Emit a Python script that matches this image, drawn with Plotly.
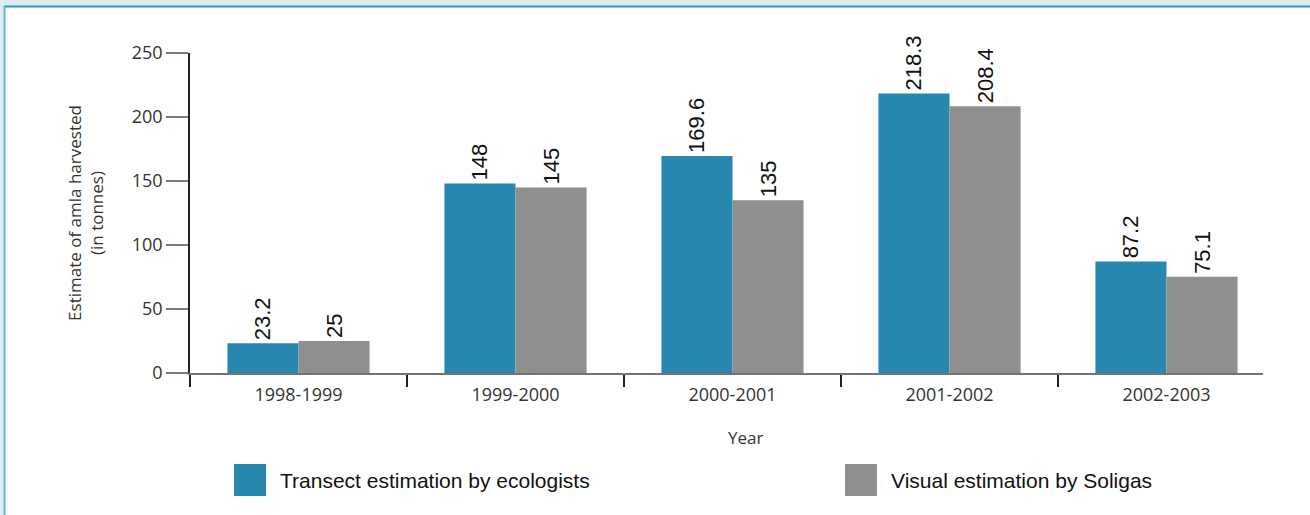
import plotly.graph_objects as go

# ---- data ----
years = ["1998-1999", "1999-2000", "2000-2001", "2001-2002", "2002-2003"]
transect = [23.2, 148, 169.6, 218.3, 87.2]
visual = [25, 145, 135, 208.4, 75.1]
series_names = ["Transect estimation by ecologists", "Visual estimation by Soligas"]
series_colors = ["#2787AE", "#8F8F8F"]
y_ticks = [0, 50, 100, 150, 200, 250]

W, H = 1310, 515
L, R, T, B = 190, 47, 53, 142
PW, PH = W - L - R, H - T - B


def px2x(px):
    return (px - L) / PW


def py2y(py):
    return (H - B - py) / PH


fig = go.Figure()
for name, vals, col in zip(series_names, [transect, visual], series_colors):
    fig.add_trace(go.Bar(
        x=years, y=vals, name=name, marker_color=col, marker_line_width=0,
        text=[f"{v:g}" for v in vals], textposition="outside", textangle=-90,
        textfont=dict(family="Liberation Sans, Arial", size=22, color="#111"),
        cliponaxis=False, showlegend=False,
    ))

shapes = []
annotations = []
# frame decoration
shapes.append(dict(type="rect", xref="paper", yref="paper", x0=px2x(0), x1=px2x(W), y0=py2y(0), y1=py2y(6),
                   fillcolor="#E3EBF3", line_width=0, layer="below"))
shapes.append(dict(type="rect", xref="paper", yref="paper", x0=px2x(0), x1=px2x(4), y0=py2y(0), y1=py2y(H),
                   fillcolor="#E3EBF3", line_width=0, layer="below"))
shapes.append(dict(type="line", xref="paper", yref="paper", x0=px2x(4), x1=px2x(W), y0=py2y(6.5), y1=py2y(6.5),
                   line=dict(color="#2A93CF", width=2), layer="below"))
shapes.append(dict(type="line", xref="paper", yref="paper", x0=px2x(4.5), x1=px2x(4.5), y0=py2y(6), y1=py2y(H),
                   line=dict(color="#5FB3DB", width=2), layer="below"))

# custom legend (large swatches)
legend_px = [234, 845]
for name, col, lx in zip(series_names, series_colors, legend_px):
    shapes.append(dict(type="rect", xref="paper", yref="paper",
                       x0=px2x(lx), x1=px2x(lx + 32), y0=py2y(464), y1=py2y(496),
                       fillcolor=col, line_width=0))
    annotations.append(dict(xref="paper", yref="paper", x=px2x(lx + 44), y=py2y(480),
                            text=name, showarrow=False, xanchor="left", yanchor="middle",
                            font=dict(family="Liberation Sans, Arial", size=21, color="#111")))

annotations.append(dict(xref="paper", yref="paper", x=px2x(745), y=py2y(437), text="Year",
                        showarrow=False, xanchor="center", yanchor="middle",
                        font=dict(family="Open Sans", size=17, color="#333")))

fig.update_layout(
    width=W, height=H,
    margin=dict(l=L, r=R, t=T, b=B),
    paper_bgcolor="white", plot_bgcolor="white",
    barmode="group", bargap=0.345, bargroupgap=0,
    shapes=shapes, annotations=annotations,
    font=dict(family="Open Sans", color="#333"),
)
fig.update_xaxes(
    type="category", range=[-0.5, -0.5 + PW / 217],
    showline=True, linecolor="rgba(0,0,0,0.55)", linewidth=2,
    ticks="outside", tickson="boundaries", ticklen=12, tickwidth=2, tickcolor="#222",
    tickfont=dict(family="Open Sans", size=18, color="#333"), ticklabelstandoff=4,
    showgrid=False, zeroline=False,
)
fig.update_yaxes(
    range=[0, 250], tickvals=y_ticks,
    showline=True, linecolor="#222", linewidth=1.5,
    ticks="outside", ticklen=22, tickwidth=2, tickcolor="#7a7a7a",
    tickfont=dict(family="Open Sans", size=18, color="#333"),
    title=dict(text="Estimate of amla harvested<br>(in tonnes)", standoff=24,
               font=dict(family="Open Sans", size=17, color="#333")),
    showgrid=False, zeroline=False,
)

fig.write_html("out.html", config={"displayModeBar": False},
               post_script="document.body.style.margin='0';document.body.style.overflow='hidden';")
